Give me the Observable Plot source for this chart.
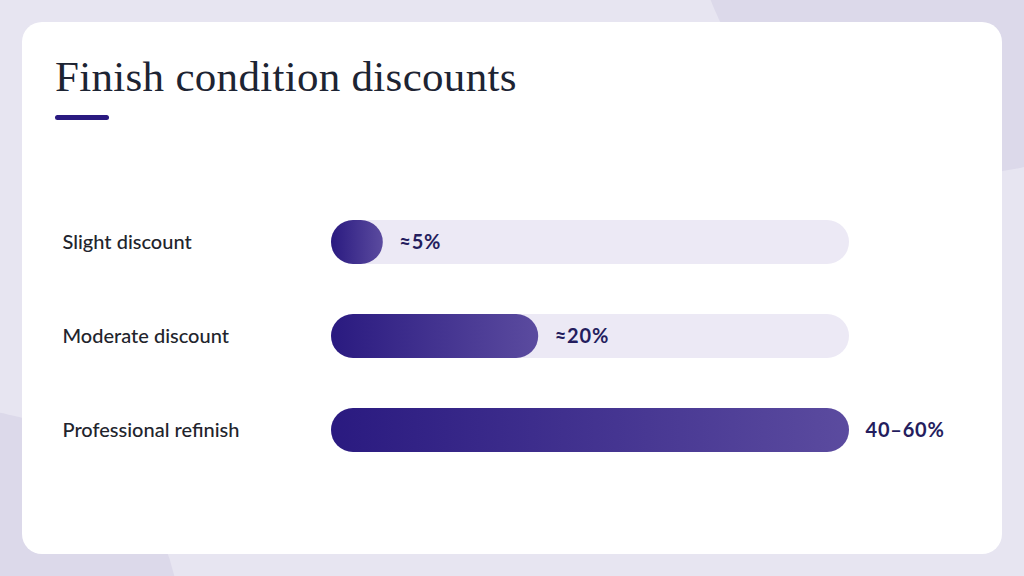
<!DOCTYPE html>
<html>
<head>
<meta charset="utf-8">
<script src="https://cdn.jsdelivr.net/npm/d3@7"></script>
<script src="https://cdn.jsdelivr.net/npm/@observablehq/plot@0.6"></script>
<style>
  html, body { margin: 0; padding: 0; }
  body { width: 1024px; height: 576px; position: relative; overflow: hidden; background: #e7e5f1; font-family: Lato, "Open Sans", sans-serif; }
  .blob { position: absolute; border-radius: 50%; background: #dcd9ea; }
  .card { position: absolute; left: 22px; top: 22px; width: 980px; height: 532px; background: #ffffff; border-radius: 20px; }
  .title { position: absolute; left: 55px; top: 55px; margin: 0; font-family: "Liberation Serif", "DejaVu Serif", serif; font-weight: 400; font-size: 43px; letter-spacing: 0.3px; color: #1d2433; line-height: 1; white-space: nowrap; }
  .accent { position: absolute; left: 55px; top: 115px; width: 54px; height: 5px; border-radius: 3px; background: #2a1a80; }
  #chart { position: absolute; left: 0; top: 190px; }
  #chart svg { background: transparent; overflow: visible; }
  #chart .vals text { letter-spacing: 0.8px; }
</style>
</head>
<body>
<div class="blob" style="left:693px; top:-366px; width:540px; height:540px;"></div>
<div class="blob" style="left:-250px; top:410px; width:430px; height:430px;"></div>
<div class="card"></div>
<h1 class="title">Finish condition discounts</h1>
<div class="accent"></div>
<div id="chart"></div>
<script>
const categories = ["Slight discount", "Moderate discount", "Professional refinish"];
const values = [5, 20, 50];
const valueLabels = ["≈5%", "≈20%", "40–60%"];
const trackMax = 50;

const rows = categories.map((c, i) => ({category: c, value: values[i], label: valueLabels[i], track: trackMax}));

const chart = Plot.plot({
  width: 1024,
  height: 300,
  marginLeft: 0, marginRight: 0, marginTop: 0, marginBottom: 0,
  x: {domain: [0, trackMax], range: [331, 849], axis: null},
  y: {domain: categories, range: [5, 287], paddingInner: 0.532, paddingOuter: 0.266, axis: null},
  marks: [
    Plot.barX(rows, {y: "category", x1: 0, x2: "track", fill: "#ece9f5", rx: 22}),
    Plot.barX(rows, {y: "category", x1: 0, x2: "value", fill: "url(#barGrad)", rx: 22}),
    Plot.text(rows, {y: "category", frameAnchor: "left", dx: 62, text: "category", textAnchor: "start", fontSize: 20, fontWeight: 500, fill: "#22242c"}),
    Plot.text(rows, {y: "category", x: "value", dx: 16, text: "label", textAnchor: "start", fontSize: 20, fontWeight: 700, fill: "#241d5e", className: "vals"})
  ]
});

const defs = d3.select(chart).insert("defs", ":first-child");
const grad = defs.append("linearGradient").attr("id", "barGrad").attr("x1", "0").attr("x2", "1").attr("y1", "0").attr("y2", "0");
grad.append("stop").attr("offset", "0%").attr("stop-color", "#2a1a80");
grad.append("stop").attr("offset", "100%").attr("stop-color", "#5b4b9f");

chart.style.fontFamily = "Lato, 'Open Sans', sans-serif";
document.getElementById("chart").appendChild(chart);
</script>
</body>
</html>
